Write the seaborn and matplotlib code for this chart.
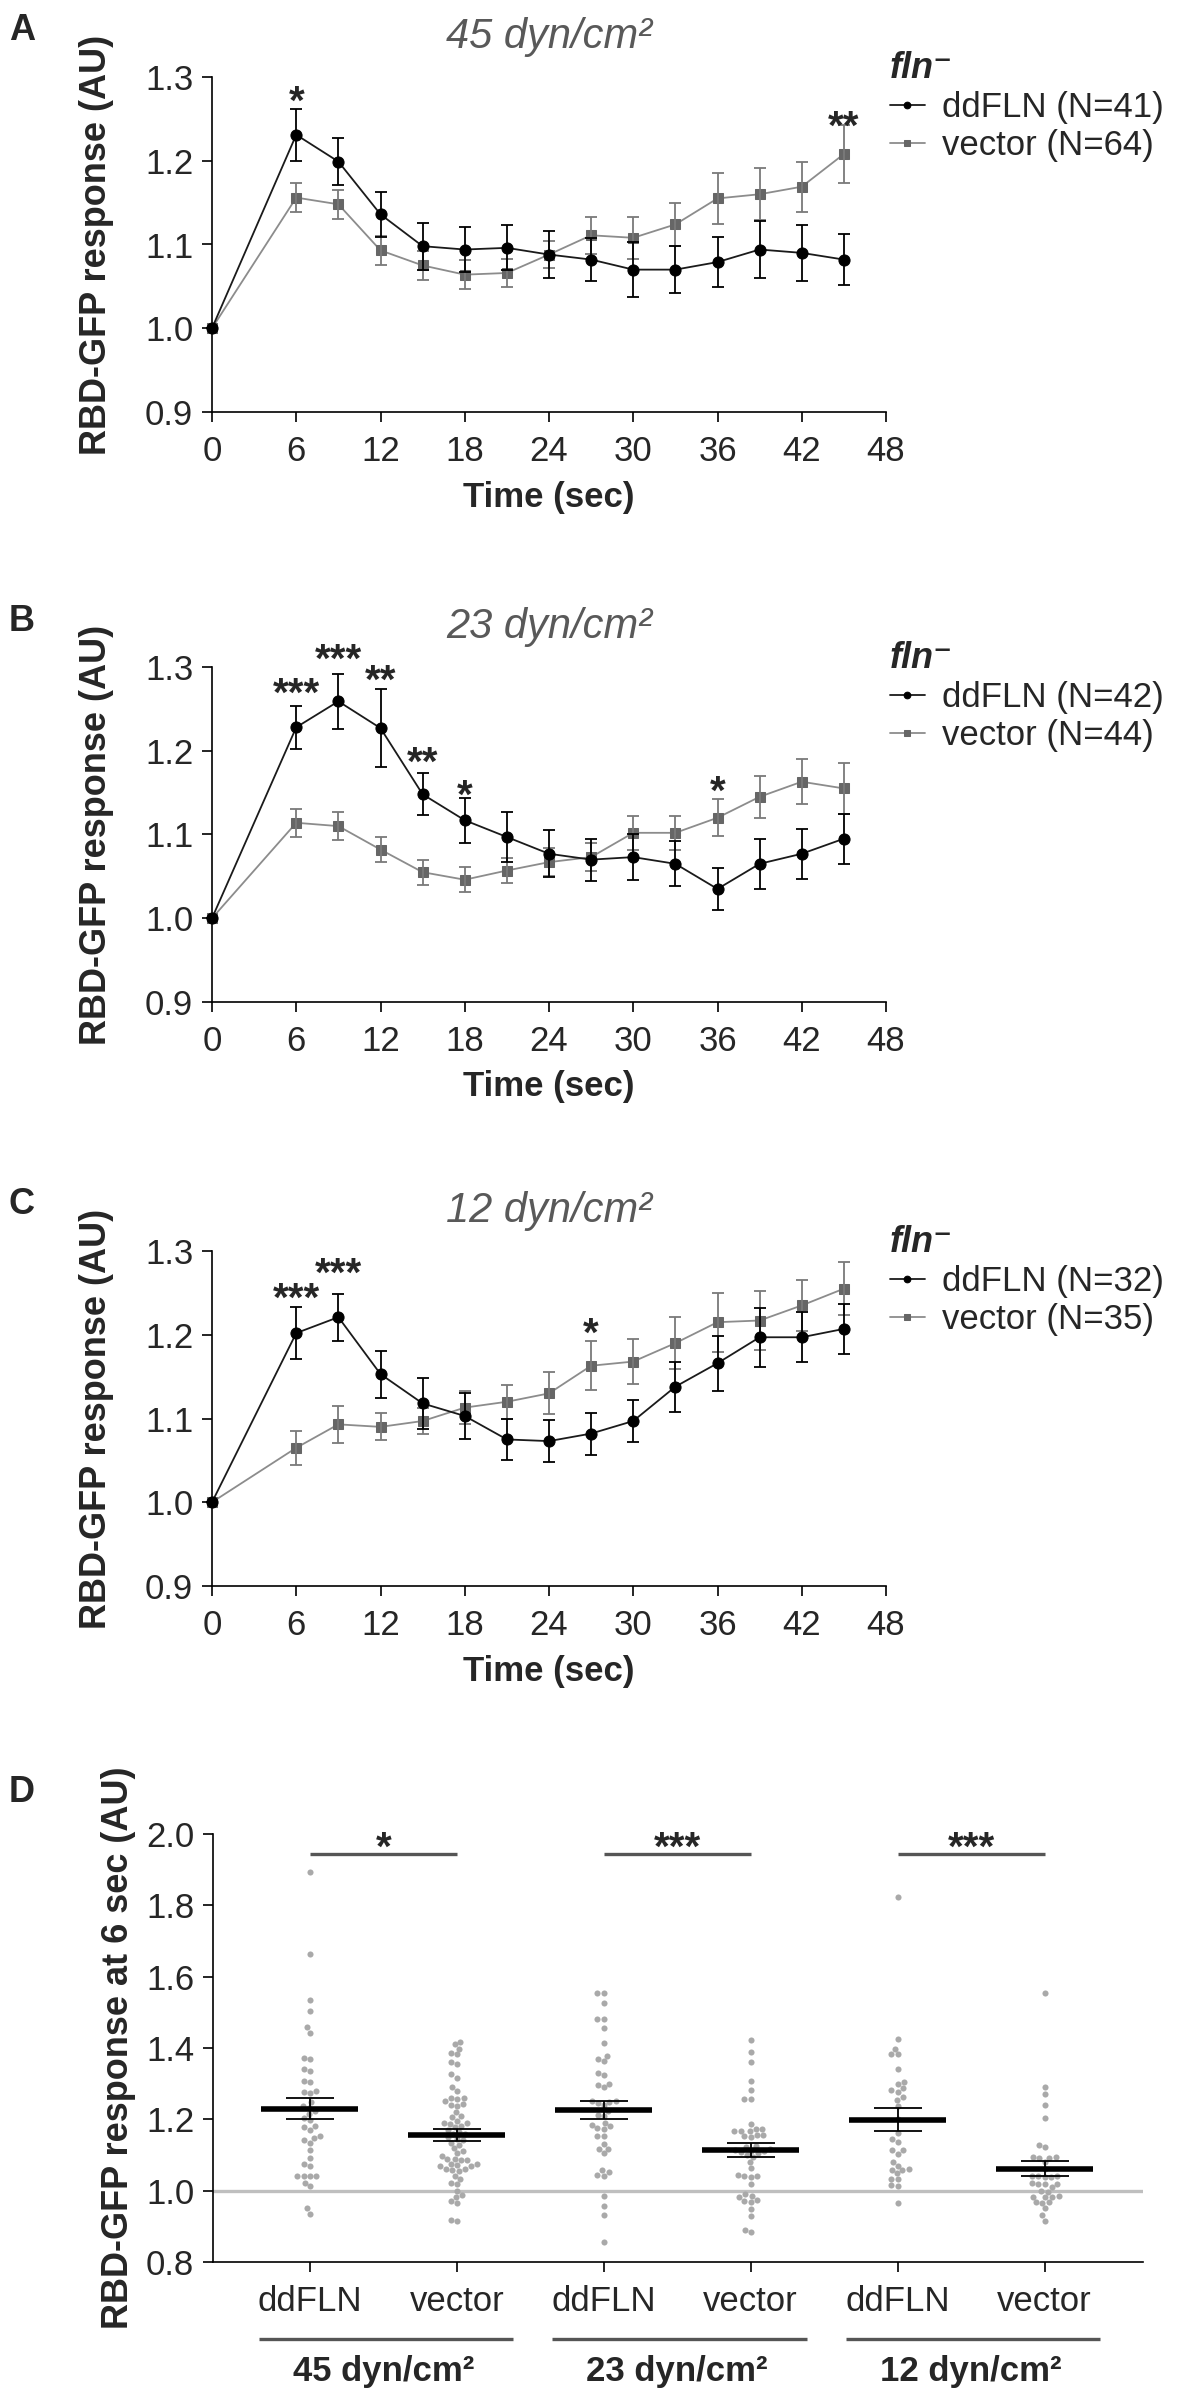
import matplotlib
matplotlib.use("Agg")
import matplotlib.pyplot as plt
import matplotlib.transforms as mtrans
import pandas as pd
import seaborn as sns

sns.set_theme(style="ticks")
plt.rcParams["font.family"] = ["Liberation Sans", "DejaVu Sans"]

# ---- time course data (mean +/- SEM) ----
times = [0, 6, 9, 12, 15, 18, 21, 24, 27, 30, 33, 36, 39, 42, 45]

a_dd = [1.0, 1.231, 1.199, 1.136, 1.098, 1.094, 1.096, 1.088, 1.082, 1.070, 1.070, 1.079, 1.094, 1.090, 1.082]
a_dd_sem = [0, 0.031, 0.028, 0.027, 0.028, 0.027, 0.027, 0.028, 0.026, 0.033, 0.028, 0.030, 0.034, 0.033, 0.030]
a_vec = [1.0, 1.156, 1.148, 1.093, 1.075, 1.064, 1.066, 1.088, 1.111, 1.108, 1.124, 1.155, 1.160, 1.169, 1.208]
a_vec_sem = [0, 0.017, 0.017, 0.017, 0.017, 0.017, 0.017, 0.016, 0.022, 0.025, 0.026, 0.030, 0.031, 0.030, 0.035]

b_dd = [1.0, 1.228, 1.259, 1.227, 1.148, 1.117, 1.097, 1.077, 1.070, 1.073, 1.065, 1.035, 1.065, 1.077, 1.095]
b_dd_sem = [0, 0.026, 0.033, 0.047, 0.025, 0.027, 0.030, 0.028, 0.025, 0.027, 0.027, 0.025, 0.030, 0.030, 0.030]
b_vec = [1.0, 1.114, 1.110, 1.082, 1.055, 1.046, 1.057, 1.067, 1.073, 1.102, 1.102, 1.120, 1.145, 1.163, 1.155]
b_vec_sem = [0, 0.017, 0.017, 0.015, 0.015, 0.015, 0.015, 0.017, 0.017, 0.020, 0.020, 0.022, 0.025, 0.027, 0.030]

c_dd = [1.0, 1.202, 1.221, 1.153, 1.118, 1.103, 1.075, 1.073, 1.082, 1.097, 1.138, 1.166, 1.197, 1.197, 1.207]
c_dd_sem = [0, 0.031, 0.028, 0.028, 0.030, 0.027, 0.025, 0.025, 0.025, 0.025, 0.030, 0.033, 0.035, 0.030, 0.030]
c_vec = [1.0, 1.065, 1.093, 1.090, 1.097, 1.113, 1.120, 1.130, 1.163, 1.168, 1.190, 1.215, 1.217, 1.235, 1.255]
c_vec_sem = [0, 0.020, 0.022, 0.016, 0.016, 0.020, 0.020, 0.025, 0.029, 0.027, 0.031, 0.035, 0.035, 0.030, 0.032]

# significance marks: (time, y, text)
a_sig = [(6, 1.284, "*"), (45, 1.255, "**")]
b_sig = [(6, 1.282, "***"), (9, 1.322, "***"), (12, 1.297, "**"), (15, 1.200, "**"),
         (18, 1.160, "*"), (36, 1.165, "*")]
c_sig = [(6, 1.257, "***"), (9, 1.287, "***"), (27, 1.215, "*")]

shear_labels = ["45 dyn/cm²", "23 dyn/cm²", "12 dyn/cm²"]
n_dd = [41, 42, 32]
n_vec = [64, 44, 35]

# ---- panel D: individual responses at 6 sec ----
d45_dd = [1.893, 1.663, 1.535, 1.504, 1.458, 1.443, 1.372, 1.368, 1.340, 1.335, 1.308, 1.305,
          1.279, 1.276, 1.275, 1.249, 1.238, 1.233, 1.224, 1.215, 1.205, 1.198, 1.180, 1.178,
          1.170, 1.153, 1.148, 1.142, 1.135, 1.115, 1.092, 1.075, 1.068, 1.042, 1.040, 1.040,
          1.042, 1.022, 1.012, 0.950, 0.935]
d45_vec = [1.417, 1.410, 1.398, 1.387, 1.382, 1.360, 1.355, 1.326, 1.317, 1.292,
           1.280, 1.260, 1.260, 1.258, 1.250, 1.243, 1.240, 1.238, 1.220, 1.208,
           1.206, 1.195, 1.190, 1.190, 1.188, 1.182, 1.178, 1.170, 1.165, 1.160,
           1.158, 1.150, 1.146, 1.142, 1.135, 1.128, 1.120, 1.112, 1.090, 1.088,
           1.087, 1.085, 1.075, 1.074, 1.072, 1.070, 1.068, 1.062, 1.060, 1.058,
           1.055, 1.042, 1.033, 1.022, 1.018, 1.000, 0.988, 0.982, 0.970, 0.965,
           0.918, 0.915, 1.105, 1.098]
d23_dd = [1.555, 1.553, 1.527, 1.482, 1.480, 1.456, 1.413, 1.378, 1.370, 1.363,
          1.331, 1.324, 1.300, 1.295, 1.290, 1.252, 1.250, 1.249, 1.247, 1.240,
          1.222, 1.212, 1.208, 1.190, 1.185, 1.180, 1.176, 1.173, 1.154, 1.152,
          1.130, 1.117, 1.116, 1.105, 1.058, 1.051, 1.044, 1.042, 0.986, 0.956,
          0.933, 0.857]
d23_vec = [1.423, 1.390, 1.360, 1.308, 1.283, 1.257, 1.256, 1.187, 1.173, 1.172,
           1.168, 1.168, 1.167, 1.154, 1.156, 1.155, 1.150, 1.125, 1.122, 1.118,
           1.115, 1.112, 1.110, 1.108, 1.105, 1.100, 1.095, 1.080, 1.063, 1.045,
           1.042, 1.040, 1.038, 1.020, 0.990, 0.985, 0.982, 0.975, 0.972, 0.968,
           0.949, 0.930, 0.890, 0.885]
d12_dd = [1.824, 1.425, 1.398, 1.384, 1.382, 1.340, 1.305, 1.300, 1.288, 1.282,
          1.278, 1.263, 1.255, 1.238, 1.200, 1.163, 1.146, 1.137, 1.115, 1.113,
          1.104, 1.081, 1.070, 1.060, 1.059, 1.058, 1.049, 1.034, 1.032, 1.015,
          1.013, 0.965]
d12_vec = [1.555, 1.292, 1.270, 1.240, 1.205, 1.129, 1.123, 1.094, 1.093, 1.092,
           1.091, 1.081, 1.060, 1.042, 1.041, 1.040, 1.039, 1.038, 1.022, 1.020,
           1.019, 1.018, 1.010, 0.998, 0.997, 0.984, 0.983, 0.982, 0.981, 0.968,
           0.967, 0.966, 0.950, 0.932, 0.916]
d_means = [1.230, 1.156, 1.226, 1.113, 1.199, 1.062]
d_sems = [0.030, 0.017, 0.026, 0.020, 0.032, 0.021]
d_names = ["ddFLN", "vector", "ddFLN", "vector", "ddFLN", "vector"]
d_sig = [(0, 1, "*"), (2, 3, "***"), (4, 5, "***")]

W, H = 1190, 2406
fig = plt.figure(figsize=(W / 100, H / 100), dpi=100)


def px_axes(left, top, right, bottom):
    return fig.add_axes([left / W, 1 - bottom / H, (right - left) / W, (bottom - top) / H])


def style_axes(ax):
    sns.despine(ax=ax)
    for sp in ["left", "bottom"]:
        ax.spines[sp].set_linewidth(1.2)
        ax.spines[sp].set_color("black")
    ax.tick_params(axis="both", labelsize=25, length=7.5, width=1.2, color="black", direction="out")
    ax.tick_params(axis="x", pad=9)
    ax.tick_params(axis="y", pad=6)


def stars(ax, x, y, txt):
    ax.annotate(txt, (x, y), xytext=(0, -17), textcoords="offset points",
                ha="center", va="baseline", fontsize=29, fontweight="bold",
                annotation_clip=False)


panels = [
    ("A", 77, a_dd, a_dd_sem, a_vec, a_vec_sem, a_sig),
    ("B", 667, b_dd, b_dd_sem, b_vec, b_vec_sem, b_sig),
    ("C", 1251, c_dd, c_dd_sem, c_vec, c_vec_sem, c_sig),
]

for k, (letter, top, dd, dd_sem, vec, vec_sem, sig) in enumerate(panels):
    ax = px_axes(212, top, 886, top + 335)

    # vector (grey squares) first, ddFLN (black circles) on top
    sns.lineplot(x=times, y=vec, ax=ax, color="#8c8c8c", lw=1.3, marker="s", markersize=7.5,
                 markerfacecolor="#666666", markeredgecolor="#666666",
                 label=f"vector (N={n_vec[k]})", clip_on=False, zorder=3)
    ax.errorbar(times, vec, yerr=vec_sem, fmt="none", ecolor="#7a7a7a", elinewidth=1.3,
                capsize=4, capthick=1.3, clip_on=False, zorder=3)
    sns.lineplot(x=times, y=dd, ax=ax, color="#1a1a1a", lw=1.3, marker="o", markersize=8,
                 markerfacecolor="black", markeredgecolor="black",
                 label=f"ddFLN (N={n_dd[k]})", clip_on=False, zorder=4)
    ax.errorbar(times, dd, yerr=dd_sem, fmt="none", ecolor="black", elinewidth=1.3,
                capsize=4, capthick=1.3, clip_on=False, zorder=4)

    for t, y, txt in sig:
        stars(ax, t, y, txt)

    ax.set_xlim(0, 48)
    ax.set_ylim(0.9, 1.3)
    ax.set_xticks(range(0, 49, 6))
    ax.set_yticks([0.9, 1.0, 1.1, 1.2, 1.3])
    ax.set_yticklabels(["0.9", "1.0", "1.1", "1.2", "1.3"])
    style_axes(ax)

    ax.set_xlabel("Time (sec)", fontsize=25, fontweight="bold", va="center")
    ax.xaxis.set_label_coords(0.5, -85 / 335)
    ax.set_ylabel("RBD-GFP response (AU)", fontsize=26, fontweight="bold", va="center")
    ax.yaxis.set_label_coords(-115 / 674, 0.5)

    ax.text(0.5, 1 + 40 / 335, shear_labels[k], transform=ax.transAxes, ha="center",
            va="center", fontsize=30, style="italic", color="#595959")
    fig.text(22 / W, 1 - (top - 46) / H, letter, fontsize=26, fontweight="bold",
             ha="center", va="center")

    handles, labels = ax.get_legend_handles_labels()
    ax.legend(handles[::-1], labels[::-1], loc="upper left",
              bbox_to_anchor=((890 - 212) / 674, 1 + 26 / 335), frameon=False,
              fontsize=25, title="fln⁻", alignment="left",
              title_fontproperties={"weight": "bold", "style": "italic", "size": 26},
              handlelength=1.0, handletextpad=0.5, borderaxespad=0, borderpad=0,
              labelspacing=0.15, markerscale=0.6)

# ---- panel D ----
axd = px_axes(213, 1834, 1143, 2262)
cond_keys = ["45 dd", "45 vec", "23 dd", "23 vec", "12 dd", "12 vec"]
groups = [d45_dd, d45_vec, d23_dd, d23_vec, d12_dd, d12_vec]
df_d = pd.DataFrame({
    "cond": [c for c, g in zip(cond_keys, groups) for _ in g],
    "value": [v for g in groups for v in g],
})

axd.axhline(1.0, color="#bfbfbf", lw=2.4, zorder=1)
sns.swarmplot(data=df_d, x="cond", y="value", order=cond_keys, color="#a9a9a9",
              size=4.4, ax=axd, zorder=2)

for i, (m, s) in enumerate(zip(d_means, d_sems)):
    axd.hlines(m, i - 0.33, i + 0.33, color="black", lw=4, zorder=5)
    axd.errorbar(i, m, yerr=s, fmt="none", ecolor="black", elinewidth=1.3,
                 capsize=17, capthick=1.3, zorder=5)

for i, j, txt in d_sig:
    axd.plot([i, j], [1.945, 1.945], color="#555555", lw=2.4, solid_capstyle="butt")
    stars(axd, (i + j) / 2, 1.993, txt)

axd.set_xlim(-0.66, 5.67)
axd.set_ylim(0.8, 2.0)
axd.set_yticks([0.8, 1.0, 1.2, 1.4, 1.6, 1.8, 2.0])
axd.set_yticklabels(["0.8", "1.0", "1.2", "1.4", "1.6", "1.8", "2.0"])
axd.set_xticks(range(6))
axd.set_xticklabels(d_names)
style_axes(axd)
axd.set_xlabel("")
axd.set_ylabel("RBD-GFP response at 6 sec (AU)", fontsize=26, fontweight="bold", va="center")
axd.yaxis.set_label_coords(-95 / 930, 0.5)

trans = mtrans.blended_transform_factory(axd.transData, axd.transAxes)
for k, lab in enumerate(shear_labels):
    axd.plot([2 * k - 0.35, 2 * k + 1.38], [-77 / 428, -77 / 428], transform=trans,
             color="#555555", lw=2.4, clip_on=False, solid_capstyle="butt")
    axd.text(2 * k + 0.5, -110 / 428, lab, transform=trans, ha="center", va="center",
             fontsize=25, fontweight="bold")

fig.text(22 / W, 1 - 1792 / H, "D", fontsize=26, fontweight="bold", ha="center", va="center")

fig.savefig("out.png", dpi=100)
